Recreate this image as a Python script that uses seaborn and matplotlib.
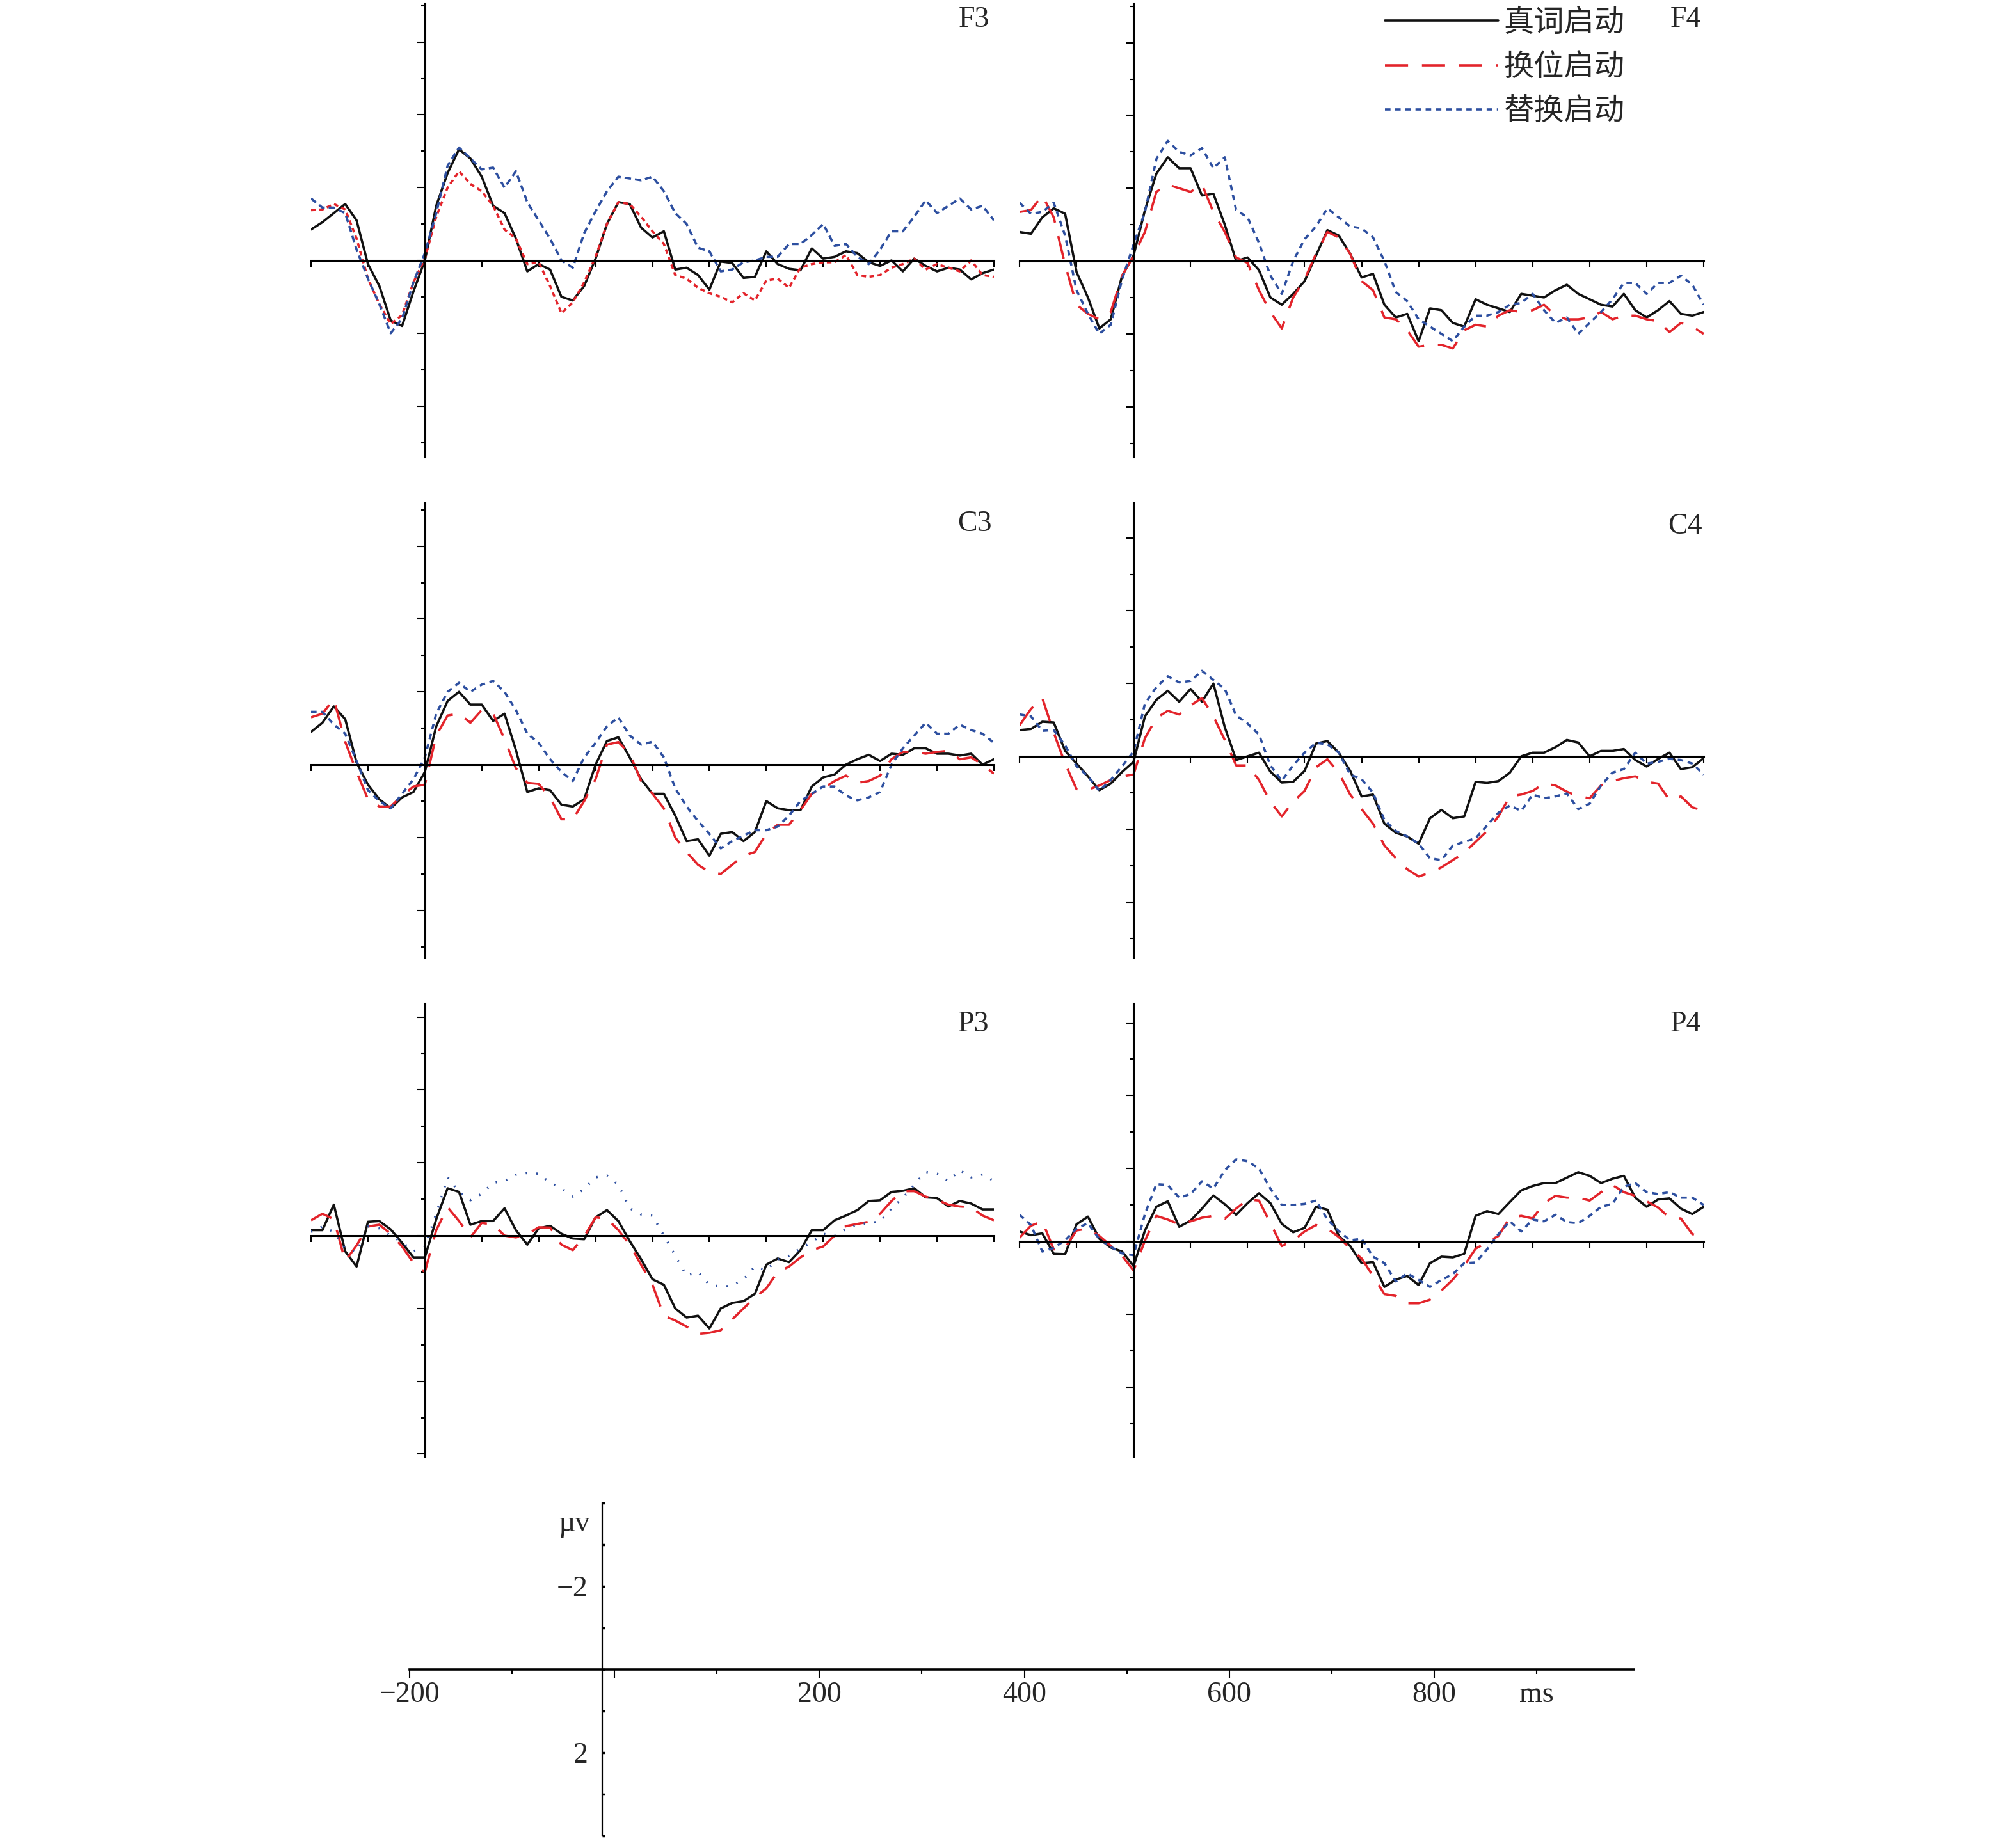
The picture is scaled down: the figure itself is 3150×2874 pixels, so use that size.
import numpy as np
import pandas as pd
import matplotlib
matplotlib.use("Agg")
import matplotlib.pyplot as plt
from matplotlib.ticker import MultipleLocator
import seaborn as sns

sns.set_style("white")
plt.rcParams["font.family"] = ["Liberation Serif", "Noto Sans CJK SC", "DejaVu Sans"]

W, H, DPI = 3150, 2874, 100

# ---- data (uV, negative plotted upward), sampled every 20 ms ----
TIME = list(range(-200, 1001, 20))
CONDS = ["真词启动", "换位启动", "替换启动"]
COLORS = {"真词启动": "#111111", "换位启动": "#e3242b", "替换启动": "#2d4fa0"}

f3_real = [-0.85, -1.05, -1.3, -1.55, -1.1, 0.1, 0.7, 1.65, 1.8, 0.85,
           0.0, -1.5, -2.4, -3.05, -2.8, -2.3, -1.5, -1.3, -0.6, 0.3,
           0.1, 0.25, 1.0, 1.1, 0.7, -0.05, -1.0, -1.6, -1.55, -0.9,
           -0.63, -0.8, 0.25, 0.2, 0.4, 0.8, 0.03, 0.07, 0.48, 0.45,
           -0.25, 0.1, 0.23, 0.27, -0.33, -0.05, -0.1, -0.25, -0.2, 0.05,
           0.15, 0.0, 0.3, -0.05, 0.15, 0.3, 0.2, 0.25, 0.52, 0.35,
           0.25]
f3_trans = [-1.38, -1.4, -1.55, -1.4, -0.6, 0.5, 1.2, 1.75, 1.5, 0.6,
            -0.05, -1.2, -2.0, -2.45, -2.1, -1.9, -1.5, -0.85, -0.6, 0.1,
            0.05, 0.7, 1.45, 1.15, 0.6, -0.1, -1.0, -1.6, -1.55, -1.2,
            -0.8, -0.45, 0.4, 0.5, 0.75, 0.9, 1.0, 1.15, 0.9, 1.1,
            0.55, 0.5, 0.75, 0.2, 0.1, 0.05, 0.05, -0.15, 0.4, 0.45,
            0.4, 0.2, 0.1, -0.05, 0.25, 0.1, 0.2, 0.3, 0.0, 0.4,
            0.45]
f3_subst = [-1.7, -1.45, -1.45, -1.3, -0.3, 0.5, 1.2, 2.0, 1.6, 0.6,
            -0.2, -1.3, -2.6, -3.1, -2.8, -2.5, -2.55, -2.0, -2.45, -1.6,
            -1.1, -0.6, 0.0, 0.2, -0.75, -1.35, -1.9, -2.3, -2.25, -2.2,
            -2.3, -1.9, -1.3, -1.0, -0.35, -0.25, 0.3, 0.25, 0.05, 0.0,
            -0.1, -0.1, -0.45, -0.45, -0.7, -1.0, -0.4, -0.45, -0.1, 0.1,
            -0.3, -0.8, -0.8, -1.2, -1.65, -1.3, -1.5, -1.7, -1.4, -1.5,
            -1.1]

f4_real = [-0.8, -0.75, -1.2, -1.45, -1.3, 0.3, 1.0, 1.85, 1.6, 0.4,
           -0.15, -1.4, -2.4, -2.85, -2.55, -2.55, -1.8, -1.85, -1.0, 0.0,
           -0.1, 0.25, 1.0, 1.2, 0.9, 0.55, -0.15, -0.85, -0.7, -0.2,
           0.45, 0.35, 1.2, 1.55, 1.45, 2.2, 1.3, 1.35, 1.7, 1.8,
           1.05, 1.2, 1.3, 1.4, 0.9, 0.95, 1.0, 0.8, 0.65, 0.9,
           1.05, 1.2, 1.25, 0.9, 1.35, 1.55, 1.35, 1.1, 1.45, 1.5,
           1.4]
f4_trans = [-1.35, -1.4, -1.8, -1.2, 0.1, 1.2, 1.45, 1.6, 1.4, 0.4,
            -0.15, -0.8, -1.9, -2.1, -2.0, -1.9, -2.1, -1.35, -0.8, -0.1,
            0.05, 0.8, 1.4, 1.85, 1.0, 0.5, -0.2, -0.8, -0.65, -0.2,
            0.55, 0.8, 1.55, 1.6, 1.9, 2.35, 2.3, 2.3, 2.4, 1.9,
            1.75, 1.8, 1.5, 1.35, 1.4, 1.35, 1.2, 1.5, 1.6, 1.6,
            1.55, 1.4, 1.6, 1.5, 1.5, 1.6, 1.65, 1.95, 1.7, 1.8,
            2.0]
f4_subst = [-1.6, -1.3, -1.35, -1.6, -0.7, 0.8, 1.45, 2.0, 1.75, 0.5,
            -0.45, -1.35, -2.8, -3.3, -3.0, -2.9, -3.1, -2.55, -2.85, -1.4,
            -1.2, -0.5, 0.4, 0.9, 0.0, -0.6, -0.95, -1.45, -1.2, -0.95,
            -0.9, -0.65, 0.0, 0.85, 1.1, 1.6, 1.8, 2.0, 2.2, 1.8,
            1.5, 1.5, 1.4, 1.2, 1.15, 0.9, 1.35, 1.7, 1.55, 2.0,
            1.7, 1.4, 1.05, 0.6, 0.6, 0.9, 0.6, 0.6, 0.4, 0.65,
            1.2]

c3_real = [-0.9, -1.15, -1.6, -1.25, -0.06, 0.55, 0.95, 1.2, 0.9, 0.75,
           0.2, -1.05, -1.75, -2.0, -1.65, -1.65, -1.2, -1.4, -0.4, 0.75,
           0.65, 0.7, 1.1, 1.15, 0.95, 0.0, -0.65, -0.75, -0.2, 0.4,
           0.8, 0.8, 1.4, 2.1, 2.05, 2.5, 1.9, 1.85, 2.1, 1.85,
           1.0, 1.2, 1.25, 1.25, 0.6, 0.35, 0.27, 0.0, -0.15, -0.27,
           -0.1, -0.3, -0.27, -0.45, -0.45, -0.3, -0.3, -0.25, -0.3, 0.0,
           -0.15]
c3_trans = [-1.3, -1.4, -1.8, -0.63, 0.2, 0.95, 1.15, 1.15, 0.85, 0.6,
            0.55, -0.8, -1.35, -1.4, -1.15, -1.5, -1.4, -0.7, 0.1, 0.5,
            0.53, 0.9, 1.5, 1.5, 1.0, 0.4, -0.55, -0.62, -0.3, 0.45,
            0.8, 1.2, 2.0, 2.4, 2.75, 2.95, 3.0, 2.75, 2.5, 2.4,
            1.9, 1.65, 1.65, 1.25, 0.8, 0.65, 0.45, 0.3, 0.5, 0.45,
            0.3, -0.15, -0.35, -0.35, -0.3, -0.35, -0.38, -0.15, -0.2, 0.0,
            0.25]
c3_subst = [-1.45, -1.45, -1.1, -0.85, -0.1, 0.7, 1.0, 1.2, 0.8, 0.4,
            -0.2, -1.4, -2.0, -2.25, -2.0, -2.2, -2.3, -2.0, -1.5, -0.85,
            -0.6, -0.15, 0.2, 0.45, -0.2, -0.6, -1.05, -1.3, -0.8, -0.55,
            -0.63, -0.2, 0.65, 1.15, 1.55, 1.9, 2.3, 2.1, 1.95, 1.8,
            1.8, 1.7, 1.4, 1.0, 0.8, 0.6, 0.6, 0.85, 0.98, 0.9,
            0.75, 0.0, -0.45, -0.8, -1.15, -0.85, -0.85, -1.1, -0.95, -0.85,
            -0.6]

c4_real = [-0.72, -0.75, -0.95, -0.93, -0.15, 0.2, 0.55, 0.93, 0.75, 0.43,
           0.15, -1.1, -1.55, -1.8, -1.5, -1.85, -1.5, -2.0, -0.8, 0.1,
           0.0, -0.1, 0.42, 0.72, 0.7, 0.4, -0.35, -0.42, -0.1, 0.4,
           1.1, 1.05, 1.85, 2.1, 2.2, 2.4, 1.7, 1.47, 1.7, 1.65,
           0.7, 0.73, 0.68, 0.45, 0.0, -0.1, -0.1, -0.25, -0.45, -0.38,
           0.0, -0.15, -0.15, -0.2, 0.1, 0.28, 0.07, -0.1, 0.35, 0.3,
           0.05]
c4_trans = [-0.85, -1.3, -1.6, -0.65, 0.2, 0.9, 0.92, 0.8, 0.65, 0.55,
            0.5, -0.5, -1.05, -1.25, -1.15, -1.4, -1.6, -1.1, -0.45, 0.25,
            0.25, 0.65, 1.25, 1.65, 1.25, 0.95, 0.3, 0.08, 0.45, 1.05,
            1.45, 1.85, 2.45, 2.8, 3.1, 3.3, 3.2, 3.05, 2.85, 2.65,
            2.35, 2.05, 1.65, 1.1, 1.05, 0.95, 0.75, 0.8, 0.97, 1.1,
            1.15, 0.8, 0.68, 0.6, 0.55, 0.7, 0.75, 1.2, 1.1, 1.4,
            1.5]
c4_subst = [-1.15, -1.1, -0.7, -0.72, -0.3, 0.27, 0.55, 0.95, 0.65, 0.27,
            -0.13, -1.45, -1.9, -2.2, -2.03, -2.07, -2.35, -2.1, -1.85, -1.12,
            -0.9, -0.6, 0.25, 0.67, 0.25, -0.1, -0.37, -0.33, -0.1, 0.5,
            0.63, 1.0, 1.75, 2.05, 2.2, 2.4, 2.8, 2.85, 2.45, 2.35,
            2.25, 1.9, 1.55, 1.35, 1.5, 1.05, 1.15, 1.1, 1.02, 1.45,
            1.3, 0.8, 0.45, 0.35, -0.1, 0.2, 0.15, 0.07, 0.1, 0.2,
            0.5]

p3_real = [-0.15, -0.15, -0.85, 0.43, 0.85, -0.38, -0.4, -0.17, 0.2, 0.6,
           0.6, -0.45, -1.3, -1.2, -0.3, -0.4, -0.4, -0.75, -0.15, 0.25,
           -0.2, -0.27, -0.05, 0.08, 0.1, -0.5, -0.7, -0.4, 0.15, 0.65,
           1.2, 1.35, 2.0, 2.25, 2.2, 2.55, 2.0, 1.85, 1.8, 1.6,
           0.8, 0.63, 0.73, 0.4, -0.15, -0.15, -0.42, -0.55, -0.7, -0.95,
           -0.97, -1.2, -1.23, -1.3, -1.05, -1.03, -0.8, -0.95, -0.88, -0.72,
           -0.72]
p3_trans = [-0.42, -0.6, -0.45, 0.7, 0.27, -0.25, -0.3, -0.05, 0.3, 0.75,
            1.0, -0.15, -0.78, -0.4, 0.05, -0.35, -0.3, 0.0, 0.05, -0.03,
            -0.23, -0.22, 0.25, 0.4, 0.02, -0.5, -0.47, -0.15, 0.25, 0.8,
            1.35, 2.2, 2.33, 2.5, 2.7, 2.67, 2.6, 2.3, 2.0, 1.7,
            1.45, 1.0, 0.85, 0.6, 0.4, 0.3, 0.0, -0.26, -0.32, -0.38,
            -0.6, -0.95, -1.22, -1.22, -1.07, -0.98, -0.85, -0.8, -0.78, -0.55,
            -0.42]
p3_subst = [-0.1, -0.25, -0.1, 0.35, 0.45, -0.25, -0.2, 0.0, 0.18, 0.43,
            0.3, -0.6, -1.6, -1.2, -0.97, -1.15, -1.45, -1.5, -1.67, -1.72,
            -1.7, -1.45, -1.3, -1.07, -1.28, -1.6, -1.65, -1.4, -0.75, -0.58,
            -0.55, 0.0, 0.55, 1.1, 1.0, 1.35, 1.4, 1.38, 1.2, 0.85,
            0.95, 0.65, 0.55, 0.35, 0.18, -0.05, 0.0, -0.18, -0.3, -0.35,
            -0.38, -0.75, -1.03, -1.4, -1.75, -1.7, -1.5, -1.8, -1.6, -1.68,
            -1.5]

p4_real = [-0.27, -0.17, -0.22, 0.34, 0.35, -0.47, -0.68, -0.07, 0.17, 0.28,
           0.68, -0.3, -0.95, -1.1, -0.4, -0.57, -0.9, -1.26, -1.02, -0.73,
           -1.05, -1.32, -1.05, -0.48, -0.25, -0.37, -0.95, -0.87, -0.15, 0.13,
           0.6, 0.57, 1.25, 1.05, 0.95, 1.2, 0.6, 0.42, 0.44, 0.34,
           -0.7, -0.83, -0.75, -1.08, -1.4, -1.52, -1.6, -1.6, -1.75, -1.9,
           -1.8, -1.6, -1.72, -1.8, -1.2, -0.95, -1.15, -1.18, -0.9, -0.75,
           -0.95]
p4_trans = [-0.1, -0.43, -0.55, 0.22, 0.18, -0.3, -0.35, -0.15, 0.12, 0.4,
            0.8, -0.02, -0.7, -0.6, -0.47, -0.55, -0.65, -0.7, -0.62, -0.9,
            -1.15, -1.12, -0.5, 0.13, -0.02, -0.27, -0.45, -0.35, -0.12, 0.2,
            0.47, 0.95, 1.45, 1.5, 1.7, 1.7, 1.6, 1.35, 1.05, 0.67,
            0.2, 0.03, -0.15, -0.65, -0.7, -0.63, -1.05, -1.25, -1.2, -1.2,
            -1.12, -1.35, -1.55, -1.35, -1.25, -1.1, -0.93, -0.65, -0.63, -0.2,
            -0.1]
p4_subst = [-0.73, -0.45, 0.28, 0.18, -0.03, -0.35, -0.5, -0.06, 0.15, 0.33,
            0.38, -0.75, -1.57, -1.55, -1.2, -1.3, -1.65, -1.45, -1.95, -2.25,
            -2.2, -2.0, -1.45, -1.0, -1.0, -1.03, -1.12, -0.6, -0.28, -0.03,
            -0.07, 0.42, 0.6, 1.1, 0.88, 1.06, 1.25, 1.06, 0.9, 0.6,
            0.58, 0.22, -0.2, -0.55, -0.27, -0.6, -0.55, -0.73, -0.53, -0.5,
            -0.7, -0.95, -1.03, -1.5, -1.6, -1.35, -1.3, -1.35, -1.2, -1.2,
            -1.0]

SERIES = {
    "F3": (f3_real, f3_trans, f3_subst),
    "F4": (f4_real, f4_trans, f4_subst),
    "C3": (c3_real, c3_trans, c3_subst),
    "C4": (c4_real, c4_trans, c4_subst),
    "P3": (p3_real, p3_trans, p3_subst),
    "P4": (p4_real, p4_trans, p4_subst),
}

# ---- layout in pixels: box (x0, y0, x1, y1), pixel row of the 0 uV line, label anchor ----
LAYOUT = {
    "F3": ((486, 5, 1553, 714), 407, (1546, 9)),
    "F4": ((1593, 5, 2662, 714), 408, (2658, 9)),
    "C3": ((486, 786, 1553, 1496), 1195, (1550, 797)),
    "C4": ((1593, 786, 2662, 1496), 1182, (2660, 802)),
    "P3": ((486, 1568, 1553, 2276), 1931, (1545, 1579)),
    "P4": ((1593, 1568, 2662, 2276), 1940, (2658, 1579)),
}
PX_PER_UV = 56.9

DASH_DEFAULT = {"真词启动": "", "换位启动": (10, 6), "替换启动": (2.4, 2.0)}
DASHES = {
    "F3": {"真词启动": "", "换位启动": (2.0, 1.5), "替换启动": (2.8, 1.7)},
    "P3": {"真词启动": "", "换位启动": (10, 6), "替换启动": (0.6, 4.0)},
}

fig = plt.figure(figsize=(W / DPI, H / DPI), dpi=DPI)


def px_axes(x0, y0, x1, y1):
    return fig.add_axes([x0 / W, 1 - y1 / H, (x1 - x0) / W, (y1 - y0) / H])


legend_ax = None
for name, ((x0, y0, x1, y1), zero_px, (lx, ly)) in LAYOUT.items():
    ax = px_axes(x0, y0, x1, y1)
    vals = SERIES[name]
    df = pd.DataFrame({
        "time": TIME * 3,
        "uv": np.concatenate(vals),
        "cond": np.repeat(CONDS, len(TIME)),
    })
    sns.lineplot(data=df, x="time", y="uv", hue="cond", style="cond",
                 hue_order=CONDS, style_order=CONDS, palette=COLORS,
                 dashes=DASHES.get(name, DASH_DEFAULT), linewidth=2.6,
                 estimator=None, legend=(name == "F4"), ax=ax)
    if name == "F4":
        legend_ax = ax

    ax.set_xlim(-200, 1000)
    ax.set_ylim((y1 - zero_px) / PX_PER_UV, -(zero_px - y0) / PX_PER_UV)
    ax.set_xlabel("")
    ax.set_ylabel("")
    ax.patch.set_alpha(0)
    for s in ("top", "right"):
        ax.spines[s].set_visible(False)
    for s in ("left", "bottom"):
        ax.spines[s].set_position(("data", 0))
        ax.spines[s].set_linewidth(2.2)
        ax.spines[s].set_color("black")
    ax.xaxis.set_major_locator(MultipleLocator(100))
    ax.yaxis.set_major_locator(MultipleLocator(2))
    ax.yaxis.set_minor_locator(MultipleLocator(1))
    ax.tick_params(axis="x", bottom=True, direction="out", length=7, width=1.5,
                   color="black", labelbottom=False)
    ax.tick_params(axis="y", which="major", left=True, direction="out", length=8.5,
                   width=1.5, color="black", labelleft=False)
    ax.tick_params(axis="y", which="minor", left=True, direction="out", length=4,
                   width=1.5, color="black")
    fig.text(lx / W, 1 - ly / H, name, ha="right", va="top", fontsize=33,
             family="Liberation Serif")

# legend (top right, as in the reference)
old = legend_ax.get_legend()
handles = old.legend_handles
labels = [t.get_text() for t in old.get_texts()]
old.remove()
fig.legend(handles, labels, loc="upper left", bbox_to_anchor=(2164 / W, 1 - 11 / H),
           frameon=False, prop={"family": "Noto Sans CJK SC", "size": 34},
           handlelength=3.75, handletextpad=0.18, labelspacing=0.45,
           borderpad=0, borderaxespad=0)

# ---- scale bar axes ----
sax = px_axes(640, 2349, 2553, 2869)
sax.set_xlim(-200, 995)
sax.set_ylim(4, -4)
sax.patch.set_alpha(0)
for s in ("top", "right"):
    sax.spines[s].set_visible(False)
sax.spines["left"].set_position(("data", -12))
sax.spines["bottom"].set_position(("data", 0))
sax.spines["left"].set_linewidth(1.6)
sax.spines["bottom"].set_linewidth(2.6)
for s in ("left", "bottom"):
    sax.spines[s].set_color("black")

x_major = [-200, 0, 200, 400, 600, 800]
x_major_lab = ["−200", "", "200", "400", "600", "800"]
x_minor = [-100, 100, 300, 500, 700, 900]
x_minor_lab = ["", "", "", "", "", "ms"]
y_ticks = [-4, -3, -2, -1, 0, 1, 2, 3, 4]
y_tick_lab = ["", "", "−2", "", "", "", "2", "", ""]

sax.set_xticks(x_major, labels=x_major_lab)
sax.set_xticks(x_minor, labels=x_minor_lab, minor=True)
sax.set_yticks(y_ticks, labels=y_tick_lab)
sax.tick_params(axis="x", which="major", bottom=True, direction="out", length=9.5,
                width=1.5, pad=4, labelsize=33, color="black")
sax.tick_params(axis="x", which="minor", bottom=True, direction="out", length=5,
                width=1.5, pad=8.5, labelsize=33, color="black")
sax.tick_params(axis="y", left=True, direction="in", length=3, width=2.5,
                pad=16, labelsize=33, color="black")
sax.text(-24, -3.5, "µv", ha="right", va="center", fontsize=33,
         family="Liberation Serif")

fig.savefig("out.png", dpi=DPI, facecolor="white")
